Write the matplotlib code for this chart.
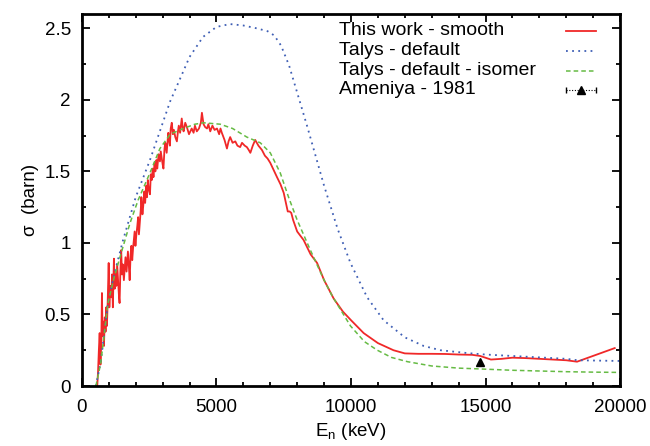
"""
sigma vs neutron energy: measured (smoothed) curve, Talys default, Talys isomer
and the Ameniya 1981 point.
"""
import matplotlib.pyplot as plt
from matplotlib.lines import Line2D
from matplotlib.ticker import MultipleLocator

plt.rcParams["font.family"] = ["Liberation Sans", "DejaVu Sans"]

# this work - smooth
work_e = [570, 600, 630, 660, 690, 720, 745, 770, 800, 820, 850, 880, 905, 930, 960,
          995, 1020, 1050, 1090, 1120, 1150, 1190, 1220, 1250, 1280, 1310, 1350, 1380,
          1400, 1430, 1460, 1490, 1520, 1560, 1590, 1620, 1660, 1710, 1745, 1775, 1810,
          1840, 1870, 1900, 1930, 1960, 1990, 2020, 2060, 2090, 2120, 2150, 2190, 2210,
          2250, 2280, 2320, 2350, 2390, 2420, 2450, 2480, 2530, 2560, 2600, 2630, 2660,
          2700, 2730, 2770, 2800, 2850, 2900, 2930, 2960, 3000, 3030, 3070, 3100, 3150,
          3210, 3240, 3270, 3300, 3340, 3380, 3420, 3470, 3530, 3570, 3600, 3650, 3710,
          3750, 3780, 3840, 3900, 3980, 4080, 4150, 4200, 4270, 4350, 4420,
          4460, 4520, 4580, 4650, 4700, 4770, 4850, 4930, 5020, 5100, 5150, 5200,
          5300, 5390, 5450, 5510, 5600, 5700, 5780, 5880, 5950, 6050, 6130, 6200,
          6260, 6350, 6440, 6500, 6560, 6690, 6800, 6900, 7000, 7100, 7250, 7380,
          7500, 7580, 7650, 7720, 7780, 7850, 8000, 8240, 8500, 8740, 9000, 9360,
          9700, 10000, 10470, 11000, 11580, 12000, 12500, 13000, 13500, 14000,
          14500, 14800, 15200, 15600, 16000, 16500, 17000, 17500, 18000, 18400, 19800]
work_s = [0.00, 0.10, 0.25, 0.37, 0.15, 0.30, 0.65, 0.35, 0.45, 0.28, 0.48, 0.38, 0.55, 0.42, 0.60,
          0.86, 0.55, 0.70, 0.62, 0.78, 0.55, 0.89, 0.68, 0.80, 0.70, 0.85, 0.72, 0.62,
          0.58, 0.80, 0.95, 0.78, 0.85, 0.74, 0.82, 0.90, 0.80, 0.94, 0.84, 0.74, 0.92,
          0.98, 0.88, 0.96, 1.02, 1.08, 0.98, 1.05, 1.12, 1.18, 1.06, 1.14, 1.24, 1.32,
          1.20, 1.26, 1.36, 1.28, 1.40, 1.32, 1.44, 1.38, 1.34, 1.48, 1.44, 1.52, 1.46,
          1.56, 1.50, 1.58, 1.52, 1.62, 1.57, 1.64, 1.60, 1.55, 1.52, 1.66, 1.70, 1.63,
          1.77, 1.72, 1.68, 1.80, 1.84, 1.76, 1.79, 1.74, 1.71, 1.78, 1.82, 1.77, 1.87,
          1.80, 1.78, 1.84, 1.81, 1.76, 1.80, 1.77, 1.82, 1.78, 1.80, 1.84,
          1.91, 1.83, 1.81, 1.80, 1.83, 1.78, 1.82, 1.79, 1.80, 1.76, 1.80, 1.77,
          1.72, 1.66, 1.71, 1.74, 1.70, 1.71, 1.68, 1.67, 1.70, 1.68, 1.67, 1.65,
          1.63, 1.68, 1.72, 1.70, 1.68, 1.65, 1.61, 1.59, 1.56, 1.52, 1.46, 1.41,
          1.35, 1.28, 1.22, 1.22, 1.21, 1.16, 1.08, 1.02, 0.92, 0.86, 0.74, 0.61,
          0.52, 0.46, 0.37, 0.30, 0.25, 0.228, 0.225, 0.225, 0.224, 0.22,
          0.218, 0.21, 0.185, 0.19, 0.198, 0.195, 0.19, 0.185, 0.18, 0.17, 0.265]

# Talys - default
talys_e = [520, 700, 970, 1200, 1530, 2000, 2530, 3280, 3700, 4000, 4500, 5000, 5500,
           6000, 6500, 6900, 7150, 7400, 7700, 8080, 8380, 9000, 9500, 9980, 10600,
           11210, 12000, 12700, 13330, 14340, 15000, 16000, 17000, 18000, 18430, 20000]
talys_s = [0.0, 0.17, 0.58, 0.78, 1.02, 1.32, 1.58, 1.99, 2.17, 2.30, 2.44, 2.51, 2.53,
           2.52, 2.50, 2.48, 2.45, 2.38, 2.24, 2.00, 1.81, 1.40, 1.10, 0.86, 0.62,
           0.46, 0.34, 0.28, 0.25, 0.23, 0.22, 0.21, 0.20, 0.19, 0.18, 0.175]

# Talys - default - isomer
iso_e = [520, 700, 970, 1200, 1460, 1790, 2090, 2530, 2900, 3280, 3770, 4200, 4520,
         5140, 5600, 6130, 6630, 7000, 7370, 7680, 8000, 8490, 9000, 9300, 9980,
         10500, 10980, 11500, 12100, 13000, 14000, 14700, 16000, 17000, 18000, 19000, 20000]
iso_s = [0.0, 0.16, 0.58, 0.76, 0.93, 1.14, 1.30, 1.49, 1.66, 1.76, 1.80, 1.83, 1.84,
         1.83, 1.80, 1.74, 1.70, 1.63, 1.49, 1.32, 1.16, 0.95, 0.74, 0.63, 0.42,
         0.31, 0.25, 0.20, 0.17, 0.14, 0.125, 0.12, 0.11, 0.105, 0.10, 0.097, 0.095]

# Ameniya - 1981
ameniya_e = [14780]
ameniya_s = [0.165]
ameniya_err = [0.008]

RED = "#f02828"
BLUE = "#3f5fb5"
GREEN = "#66bb44"

fig = plt.figure(figsize=(6.5, 4.46), dpi=100)
ax = fig.add_axes([0.126, 0.1345, 0.828, 0.834])

styles = [
    dict(color=RED, lw=1.3),
    dict(color=BLUE, lw=1.3, ls=(0, (1, 2.4))),
    dict(color=GREEN, lw=1.1, ls=(0, (3, 2))),
]
ax.plot(work_e, work_s, **styles[0])
ax.plot(talys_e, talys_s, **styles[1])
ax.plot(iso_e, iso_s, **styles[2])
ax.errorbar(ameniya_e, ameniya_s, yerr=ameniya_err, fmt="^", color="black",
            ms=6, capsize=0, elinewidth=0.8)

ax.set_xlim(0, 20000)
ax.set_ylim(0, 2.6)
ax.xaxis.set_major_locator(MultipleLocator(5000))
ax.xaxis.set_minor_locator(MultipleLocator(1000))
ax.set_yticks([0, 0.5, 1, 1.5, 2, 2.5])
ax.set_yticklabels(["0", "0.5", "1", "1.5", "2", "2.5"])
ax.yaxis.set_minor_locator(MultipleLocator(0.25))
ax.tick_params(which="both", direction="in", top=True, right=True, labelsize=13.5, width=1.3)
ax.tick_params(which="major", length=6, pad=8)
ax.tick_params(axis="x", which="major", pad=9)
ax.tick_params(which="minor", length=3)
for s in ax.spines.values():
    s.set_linewidth(2)

ax.set_xlabel("E$_\\mathregular{n}$ (keV)", fontsize=13.5, labelpad=4)
ax.set_ylabel("σ  (barn)", fontsize=13.5, labelpad=4)

# gnuplot-style key: text left-justified, sample on the right
labels = ["This work - smooth", "Talys - default", "Talys - default - isomer", "Ameniya - 1981"]
rows = [0.955, 0.901, 0.847, 0.796]
x_txt, x0, x1 = 0.477, 0.899, 0.955
for i, (lab, yk) in enumerate(zip(labels, rows)):
    ax.text(x_txt, yk, lab, transform=ax.transAxes, fontsize=14, va="center", ha="left")
    if i < 3:
        ax.add_line(Line2D([x0, x1], [yk, yk], transform=ax.transAxes, **styles[i]))
    else:
        ax.add_line(Line2D([x0, x1], [yk, yk], transform=ax.transAxes, color="black",
                           lw=0.8, ls=(0, (1, 1.5))))
        ax.add_line(Line2D([x0, x1], [yk, yk], transform=ax.transAxes, color="black",
                           lw=0, marker="|", ms=4))
        ax.add_line(Line2D([(x0 + x1) / 2], [yk], transform=ax.transAxes, color="black",
                           lw=0, marker="^", ms=6))

fig.savefig("out.png", dpi=100)
